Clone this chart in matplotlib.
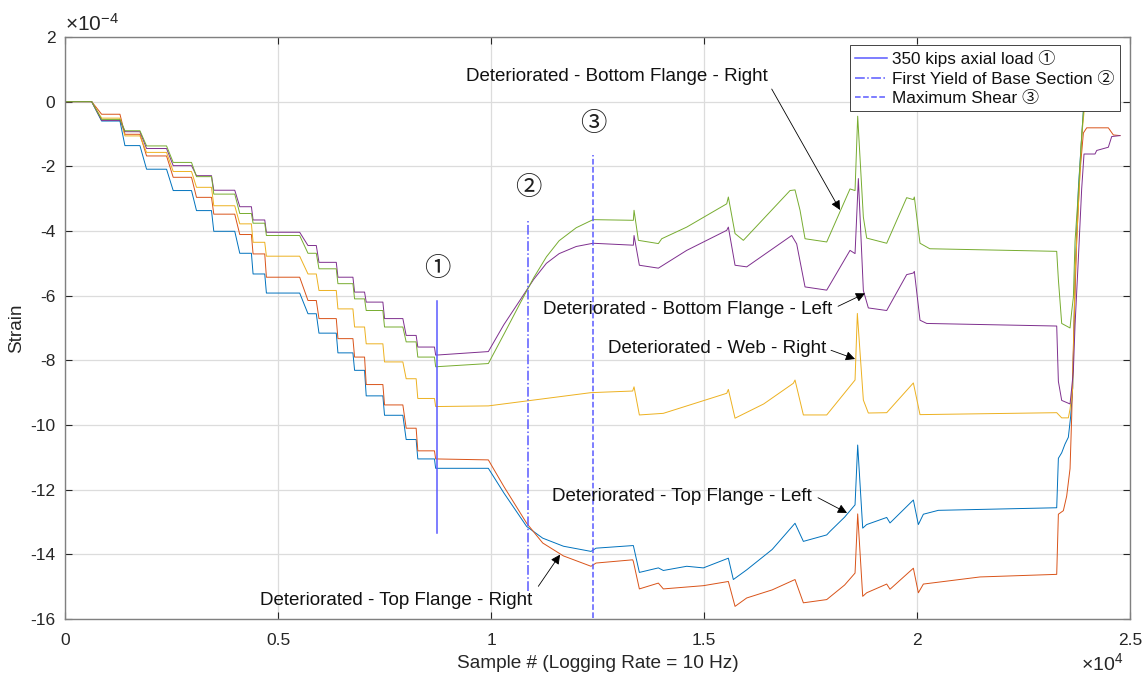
import numpy as np
import matplotlib
matplotlib.use("Agg")
import matplotlib.pyplot as plt
from matplotlib.ticker import FuncFormatter, MultipleLocator

plt.rcParams['font.family'] = ['Liberation Sans', 'Noto Sans CJK JP', 'DejaVu Sans']
plt.rcParams['axes.unicode_minus'] = False

# strain values below are in units of 1e-4, sample numbers in raw samples

# loading stage: plateau start/end sample numbers shared by all gauges
plateau_start = [0, 859, 1406, 1914, 2539, 3086, 3492, 4102, 4414, 4727, 5703, 5961, 6406, 6797, 7070, 7500, 8008, 8281]
plateau_end = [625, 1289, 1758, 2383, 2969, 3438, 3984, 4375, 4688, 5508, 5898, 6367, 6758, 7031, 7461, 7930, 8242, 8672]

top_left_steps = [0, -0.60, -1.36, -2.09, -2.75, -3.37, -4.01, -4.69, -5.33, -5.92, -6.56, -7.16, -7.77, -8.31, -9.10, -9.70, -10.45, -11.05]
top_right_steps = [0, -0.39, -1.01, -1.68, -2.34, -2.96, -3.48, -4.11, -4.71, -5.43, -6.15, -6.71, -7.33, -7.90, -8.75, -9.38, -10.10, -10.80]
web_right_steps = [0, -0.51, -1.06, -1.57, -2.16, -2.65, -3.22, -3.78, -4.35, -4.78, -5.33, -5.84, -6.41, -6.97, -7.49, -8.05, -8.57, -9.18]
bot_left_steps = [0, -0.58, -0.93, -1.45, -1.98, -2.29, -2.74, -3.25, -3.66, -4.04, -4.45, -4.97, -5.43, -5.89, -6.20, -6.71, -7.23, -7.59]
bot_right_steps = [0, -0.55, -0.90, -1.37, -1.88, -2.32, -2.86, -3.46, -3.76, -4.14, -4.69, -5.17, -5.63, -6.10, -6.46, -6.97, -7.43, -7.90]

# after the axial load is reached
top_left_x = [8700, 9937, 10300, 10837, 11213, 11700, 12347, 12465, 13325, 13341, 13482, 13928, 14045, 14594, 14984,
              15571, 15688, 16002, 16600, 17136, 17332, 17880, 17958, 18300, 18545, 18607, 18725, 18818, 19288, 19366,
              19914, 20031, 20149, 20500, 23279, 23318, 23396, 23474, 23552, 23607, 23654, 23709, 23787, 23865, 23920]
top_left_y = [-11.34, -11.34, -12.10, -13.14, -13.50, -13.75, -13.91, -13.81, -13.73, -13.73, -14.56, -14.42, -14.50, -14.37, -14.42,
              -14.12, -14.78, -14.48, -13.85, -13.04, -13.60, -13.40, -13.29, -12.85, -12.47, -10.62, -13.19, -13.08, -12.86, -13.03,
              -12.32, -13.08, -12.76, -12.64, -12.56, -11.03, -10.86, -10.59, -10.38, -9.73, -8.86, -5.40, -2.70, -1.08, 0.0]

top_right_x = [8700, 9937, 10300, 10837, 11213, 11700, 12347, 12465, 13325, 13341, 13482, 13928, 14045, 14984, 15571,
               15728, 16002, 16600, 17136, 17332, 17880, 18300, 18545, 18607, 18725, 18818, 19288, 19366, 19914, 20031,
               20149, 21479, 23279, 23318, 23435, 23513, 23592, 23631, 23670, 23748, 23826, 23905, 23983, 24491, 24609, 24765]
top_right_y = [-11.05, -11.08, -11.90, -13.04, -13.65, -14.05, -14.37, -14.27, -14.17, -14.22, -15.07, -14.89, -15.07, -14.97, -14.84,
               -15.61, -15.35, -15.10, -14.78, -15.50, -15.40, -14.95, -14.58, -12.75, -15.30, -15.19, -14.92, -15.08, -14.43, -15.19,
               -14.92, -14.70, -14.62, -12.76, -12.65, -12.20, -11.35, -9.73, -7.57, -4.30, -2.16, -0.97, -0.81, -0.81, -1.03, -1.05]

web_right_x = [8700, 9937, 12347, 13325, 13357, 13482, 14045, 15533, 15571, 15728, 16400, 17097, 17136, 17332, 17880,
               18545, 18599, 18740, 18857, 19288, 19914, 20070, 23279, 23396, 23552, 23592, 23654, 23709, 23787, 23865, 23944]
web_right_y = [-9.43, -9.41, -9.00, -8.95, -8.82, -9.69, -9.64, -9.02, -8.90, -9.79, -9.35, -8.71, -8.61, -9.69, -9.69,
               -8.61, -6.55, -9.23, -9.63, -9.62, -8.70, -9.68, -9.62, -9.78, -9.78, -9.51, -8.86, -5.40, -3.24, -1.08, 0.0]

bot_left_x = [8700, 9937, 10300, 10681, 11000, 11300, 11600, 12000, 12394, 13341, 13357, 13482, 13928, 14594, 15533,
              15571, 15728, 16002, 17058, 17175, 17371, 17880, 18427, 18545, 18623, 18740, 18857, 19288, 19757, 19914,
              19937, 20070, 20227, 23279, 23318, 23396, 23592, 23631, 23670, 23709, 23787, 23865, 23920, 24178, 24218,
              24491, 24570, 24765]
bot_left_y = [-7.84, -7.73, -6.90, -6.14, -5.50, -5.00, -4.70, -4.48, -4.38, -4.44, -4.14, -5.06, -5.15, -4.60, -3.98,
              -3.88, -5.06, -5.11, -4.14, -4.40, -5.73, -5.83, -4.60, -4.70, -2.38, -5.84, -6.38, -6.46, -5.35, -5.30,
              -5.25, -6.76, -6.86, -6.94, -8.65, -9.24, -9.35, -8.86, -8.32, -6.92, -4.86, -2.70, -1.62, -1.62, -1.51,
              -1.41, -1.08, -1.05]

bot_right_x = [8700, 9937, 10300, 10681, 11000, 11300, 11600, 12000, 12394, 13341, 13357, 13459, 13928, 14007, 14594,
               15533, 15571, 15728, 15923, 17019, 17136, 17254, 17371, 17880, 18427, 18545, 18607, 18740, 18818, 19288,
               19757, 19914, 19937, 20070, 20300, 23279, 23318, 23396, 23592, 23631, 23670, 23709, 23787, 23865, 23920]
bot_right_y = [-8.20, -8.10, -7.20, -6.24, -5.45, -4.80, -4.30, -3.90, -3.65, -3.67, -3.36, -4.29, -4.39, -4.24, -3.88,
               -3.16, -2.95, -4.08, -4.29, -2.75, -2.73, -3.36, -4.24, -4.34, -2.70, -2.75, -0.45, -3.57, -4.22, -4.38,
               -2.97, -3.03, -2.95, -4.38, -4.55, -4.63, -5.50, -6.86, -7.00, -6.49, -6.05, -4.32, -2.81, -1.08, 0.0]

# event markers: sample number, strain range
events = ['350 kips axial load ①', 'First Yield of Base Section ②', 'Maximum Shear ③']
event_x = [8730, 10869, 12394]
event_lo = [-13.33, -15.15, -15.96]
event_hi = [-6.16, -3.69, -1.64]
event_style = ['-', '-.', '--']
event_tag = ['①', '②', '③']
event_tag_y = [-5.15, -2.65, -0.68]


def gauge(levels, tail_x, tail_y):
    xs, ys = [], []
    for a, b, v in zip(plateau_start, plateau_end, levels):
        xs += [a, b]
        ys += [v, v]
    xs += tail_x
    ys += tail_y
    return np.array(xs), np.array(ys) * 1e-4


series = [
    (top_left_steps, top_left_x, top_left_y, '#0072BD'),
    (top_right_steps, top_right_x, top_right_y, '#D95319'),
    (web_right_steps, web_right_x, web_right_y, '#EDB120'),
    (bot_left_steps, bot_left_x, bot_left_y, '#7E2F8E'),
    (bot_right_steps, bot_right_x, bot_right_y, '#77AC30'),
]

fig = plt.figure(figsize=(11.47, 6.77), dpi=100)
ax = fig.add_axes([0.0567, 0.0857, 0.9285, 0.8597])

for steps, tx, ty, c in series:
    x, y = gauge(steps, tx, ty)
    ax.plot(x, y, color=c, lw=0.7)

handles = []
for lab, ex, lo, hi, ls in zip(events, event_x, event_lo, event_hi, event_style):
    h, = ax.plot([ex, ex], [lo * 1e-4, hi * 1e-4], ls=ls, color='#5A5AFF', lw=1.1, label=lab)
    handles.append(h)
for ex, ty, t in zip(event_x, event_tag_y, event_tag):
    ax.text(ex, ty * 1e-4, t, ha='center', va='center', fontsize=19, color='#202020',
            family=['Noto Sans CJK JP', 'DejaVu Sans'])

# labels with arrows (text position, arrow tail, arrow head)
notes = [
    ('Deteriorated - Bottom Flange - Right', (12958, 0.77), (16589, 0.39), (18192, -3.35)),
    ('Deteriorated - Bottom Flange - Left', (14613, -6.42), (18146, -6.33), (18779, -5.93)),
    ('Deteriorated - Web - Right', (15305, -7.65), (17981, -7.69), (18545, -7.96)),
    ('Deteriorated - Top Flange - Left', (14484, -12.22), (17676, -12.25), (18357, -12.72)),
    ('Deteriorated - Top Flange - Right', (7782, -15.42), (11110, -14.99), (11620, -14.01)),
]
for txt, pos, tail, head in notes:
    ax.text(pos[0], pos[1] * 1e-4, txt, ha='center', va='center', fontsize=13.5, color='#111111')
    ax.annotate('', xy=(head[0], head[1] * 1e-4), xytext=(tail[0], tail[1] * 1e-4),
                arrowprops=dict(arrowstyle='-|>', color='k', lw=0.6, mutation_scale=14,
                                shrinkA=0, shrinkB=0))

ax.set_xlim(0, 25000)
ax.set_ylim(-16e-4, 2e-4)
ax.xaxis.set_major_locator(MultipleLocator(5000))
ax.yaxis.set_major_locator(MultipleLocator(2e-4))
ax.xaxis.set_major_formatter(FuncFormatter(lambda v, p: f'{v / 1e4:g}'))
ax.yaxis.set_major_formatter(FuncFormatter(lambda v, p: f'{round(v / 1e-4):d}'))
ax.text(0.0, 1.004, r'$\mathregular{\times10^{-4}}$', transform=ax.transAxes,
        ha='left', va='bottom', fontsize=15, color='#262626')
ax.text(0.994, -0.076, r'$\mathregular{\times10^{4}}$', transform=ax.transAxes,
        ha='right', va='center', fontsize=14, color='#262626')

ax.grid(True, color='#DCDCDC', lw=0.9)
ax.set_axisbelow(True)
ax.tick_params(direction='in', length=5, width=0.8, colors='#262626', labelsize=12.5,
               top=True, right=True)
ax.tick_params(axis='x', pad=10)
ax.tick_params(axis='y', pad=7)
for s in ax.spines.values():
    s.set_color('#808080')
    s.set_linewidth(1.0)

ax.set_xlabel('Sample # (Logging Rate = 10 Hz)', fontsize=13.7, color='#262626')
ax.set_ylabel('Strain', fontsize=13.7, color='#262626')
ax.xaxis.set_label_coords(0.5, -0.062)
ax.yaxis.set_label_coords(-0.0376, 0.5)

leg = ax.legend(handles=handles, loc='upper right', bbox_to_anchor=(0.9906, 0.986),
                borderaxespad=0, fontsize=12.3, handlelength=1.9, handletextpad=0.3,
                labelspacing=0.25, borderpad=0.3, fancybox=False, framealpha=1)
leg.get_frame().set_edgecolor('#262626')
leg.get_frame().set_linewidth(0.6)
for t in leg.get_texts():
    t.set_color('#111111')

fig.savefig('out.png', dpi=100)
